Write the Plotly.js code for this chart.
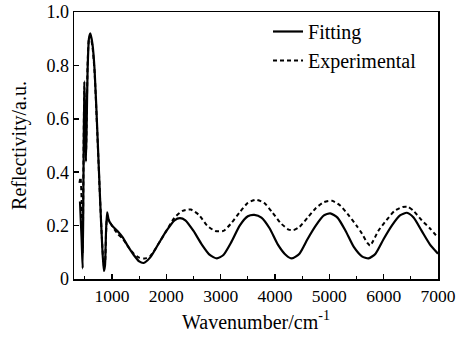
<!DOCTYPE html>
<html>
<head>
<meta charset="utf-8">
<script src="https://cdn.plot.ly/plotly-3.0.1.min.js"></script>
<style>html,body{margin:0;padding:0;background:#fff;}</style>
</head>
<body>
<div id="chart" style="width:456px;height:339px;"></div>
<script>
const fitX = [410, 440, 460, 475, 490, 505, 520, 535, 550, 575, 600, 640, 680, 730, 780, 820, 850, 870, 890, 910, 940, 1000, 1100, 1200, 1300, 1400, 1500, 1580, 1700, 1850, 2000, 2150, 2250, 2350, 2500, 2650, 2800, 2930, 3050, 3200, 3350, 3500, 3620, 3750, 3900, 4050, 4200, 4310, 4450, 4600, 4750, 4900, 5016, 5150, 5300, 5450, 5600, 5721, 5850, 6000, 6150, 6300, 6428, 6550, 6700, 6850, 7000];
const fitY = [0.29, 0.15, 0.04, 0.40, 0.74, 0.60, 0.44, 0.60, 0.78, 0.90, 0.92, 0.88, 0.78, 0.55, 0.30, 0.12, 0.03, 0.05, 0.18, 0.25, 0.22, 0.20, 0.18, 0.155, 0.12, 0.09, 0.066, 0.06, 0.08, 0.13, 0.18, 0.22, 0.228, 0.22, 0.18, 0.13, 0.09, 0.077, 0.09, 0.14, 0.20, 0.235, 0.24, 0.23, 0.19, 0.13, 0.09, 0.077, 0.095, 0.15, 0.20, 0.238, 0.246, 0.23, 0.18, 0.12, 0.085, 0.077, 0.095, 0.15, 0.20, 0.238, 0.248, 0.23, 0.18, 0.13, 0.095];

const expX = [400, 420, 440, 460, 475, 490, 505, 520, 535, 550, 575, 600, 640, 680, 730, 780, 820, 850, 870, 890, 910, 940, 1000, 1100, 1200, 1300, 1400, 1500, 1600, 1700, 1850, 2000, 2150, 2300, 2450, 2600, 2750, 2900, 3050, 3200, 3350, 3500, 3650, 3800, 3950, 4100, 4250, 4340, 4450, 4600, 4750, 4900, 5050, 5200, 5350, 5500, 5600, 5700, 5750, 5800, 5900, 6050, 6200, 6350, 6450, 6550, 6700, 6850, 7000];
const expY = [0.36, 0.38, 0.30, 0.10, 0.45, 0.72, 0.58, 0.46, 0.62, 0.80, 0.90, 0.91, 0.87, 0.77, 0.54, 0.30, 0.13, 0.05, 0.06, 0.17, 0.23, 0.22, 0.20, 0.17, 0.15, 0.12, 0.095, 0.08, 0.077, 0.085, 0.13, 0.18, 0.23, 0.255, 0.26, 0.24, 0.20, 0.18, 0.18, 0.21, 0.25, 0.285, 0.297, 0.285, 0.25, 0.21, 0.185, 0.183, 0.195, 0.23, 0.265, 0.288, 0.293, 0.275, 0.24, 0.20, 0.17, 0.135, 0.125, 0.14, 0.18, 0.22, 0.255, 0.27, 0.27, 0.255, 0.22, 0.19, 0.155];

const xTickVals = [1000, 2000, 3000, 4000, 5000, 6000, 7000];
const yTickVals = [0, 0.2, 0.4, 0.6, 0.8, 1.0];
const yTickText = ["0", "0.2", "0.4", "0.6", "0.8", "1.0"];

const font = "Liberation Serif, Times New Roman, serif";

const traces = [
  {x: fitX, y: fitY, name: "Fitting", mode: "lines", line: {color: "#000", width: 2.2, shape: "spline", smoothing: 0.6}},
  {x: expX, y: expY, name: "Experimental", mode: "lines", line: {color: "#000", width: 2, dash: "4px,3px", shape: "spline", smoothing: 0.6}}
];

const layout = {
  width: 456, height: 339,
  margin: {l: 74, r: 18, t: 12, b: 60},
  paper_bgcolor: "#fff", plot_bgcolor: "#fff",
  font: {family: font, color: "#000", size: 18},
  showlegend: true,
  legend: {x: 0.533, y: 1.0, xanchor: "left", yanchor: "top", bgcolor: "rgba(0,0,0,0)", font: {size: 20, family: font}, tracegroupgap: 0, itemwidth: 30},
  xaxis: {
    range: [300, 7000], tickvals: xTickVals, ticks: "inside", ticklen: 5, tickwidth: 1.5, tickcolor: "#000",
    minor: {dtick: 500, tick0: 0, ticks: "inside", ticklen: 3, tickcolor: "#000", tickwidth: 1.2},
    showline: true, linecolor: "#000", linewidth: 1.5, mirror: true, showgrid: false, zeroline: false,
    tickfont: {size: 17.5, family: font},
    title: {text: "Wavenumber/cm<sup>-1</sup>", font: {size: 20, family: font}, standoff: 10}
  },
  yaxis: {
    range: [0, 1.0], tickvals: yTickVals, ticktext: yTickText, ticks: "inside", ticklen: 5, tickwidth: 1.5, tickcolor: "#000",
    showline: true, linecolor: "#000", linewidth: 1.5, mirror: true, showgrid: false, zeroline: false,
    tickfont: {size: 18, family: font},
    title: {text: "Reflectivity/a.u.", font: {size: 20, family: font}, standoff: 14}
  }
};

Plotly.newPlot("chart", traces, layout, {displayModeBar: false, staticPlot: true});
</script>
</body>
</html>
